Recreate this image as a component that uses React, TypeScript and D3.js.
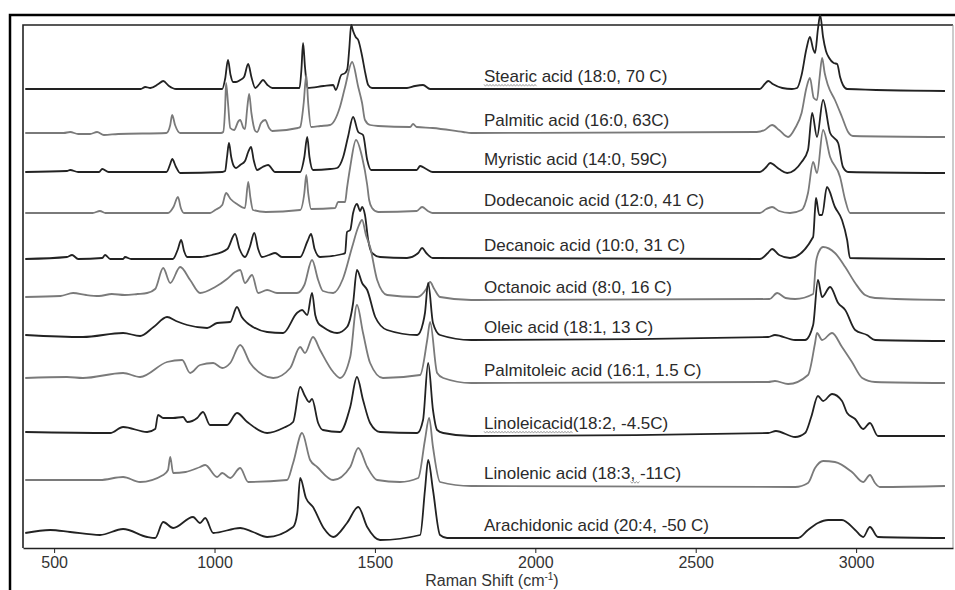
import { useEffect, useRef } from 'react';
import * as d3 from 'd3';

type Pt = [number, number];

// Raman shift (cm-1), intensity above the trace's own baseline (a.u.)
const STEARIC: Pt[] = [[410,0],[700,0],[770,0],[784,2],[800,1],[825,5],[840,8],[858,3],[880,0],[1024,0],[1033,10],[1042,29],[1050,14],[1058,7],[1067,7],[1080,9],[1092,12],[1105,25],[1115,12],[1127,1],[1140,5],[1151,9],[1165,4],[1180,1],[1265,1],[1271,20],[1276,46],[1282,22],[1290,1],[1340,3],[1370,4],[1378,-1],[1395,14],[1407,16],[1414,20],[1420,40],[1426,64],[1432,58],[1440,52],[1448,49],[1460,33],[1470,16],[1479,4],[1491,1],[1600,1],[1625,3],[1650,4],[1672,0],[2700,0],[2715,5],[2726,8],[2740,5],[2770,1],[2800,0],[2816,1],[2830,14],[2845,40],[2856,52],[2866,40],[2872,36],[2881,60],[2888,74],[2897,52],[2906,38],[2916,31],[2930,26],[2941,25],[2950,12],[2959,4],[2972,0],[3277,-2]];
const PALMITIC: Pt[] = [[410,0],[530,0],[550,1],[575,-1],[612,-1],[634,1],[655,-2],[700,-1],[850,0],[862,8],[868,18],[877,8],[893,0],[1020,0],[1027,1],[1033,25],[1036,50],[1042,30],[1049,5],[1061,3],[1075,12],[1080,13],[1090,5],[1095,4],[1102,25],[1108,39],[1115,20],[1127,2],[1133,1],[1145,10],[1158,13],[1170,5],[1180,2],[1260,5],[1267,6],[1278,30],[1286,58],[1292,30],[1301,6],[1330,7],[1360,8],[1391,26],[1407,46],[1429,71],[1448,46],[1460,30],[1469,13],[1485,8],[1510,7],[1610,6],[1619,9],[1630,6],[1680,5],[1775,1],[1800,0],[2690,1],[2715,3],[2738,8],[2760,3],[2788,-4],[2810,5],[2830,20],[2845,45],[2856,55],[2868,35],[2878,33],[2886,55],[2894,75],[2902,60],[2912,48],[2934,33],[2956,16],[2975,1],[2990,-3],[3277,-4]];
const MYRISTIC: Pt[] = [[410,0],[540,1],[550,2],[575,0],[640,0],[650,3],[670,0],[850,0],[862,8],[868,13],[880,5],[893,-1],[1024,0],[1033,1],[1039,15],[1045,29],[1052,15],[1060,6],[1067,4],[1080,7],[1095,11],[1105,20],[1114,25],[1122,12],[1133,2],[1150,5],[1167,7],[1189,0],[1267,0],[1280,15],[1289,35],[1296,15],[1307,2],[1360,3],[1382,4],[1401,15],[1416,35],[1432,55],[1448,40],[1463,37],[1476,12],[1488,2],[1630,2],[1641,6],[1660,3],[1680,0],[2700,0],[2720,5],[2732,9],[2760,3],[2785,-1],[2830,10],[2850,22],[2863,59],[2878,35],[2897,72],[2919,39],[2944,29],[2959,5],[2975,0],[3277,-1]];
const DODECANOIC: Pt[] = [[410,0],[620,0],[643,2],[660,0],[855,0],[872,6],[886,16],[895,5],[905,0],[986,0],[1002,3],[1024,8],[1036,20],[1050,14],[1070,9],[1095,5],[1105,31],[1112,15],[1120,3],[1160,1],[1267,3],[1280,20],[1286,38],[1292,20],[1301,4],[1376,5],[1385,11],[1407,11],[1413,25],[1423,46],[1441,73],[1460,56],[1476,28],[1482,13],[1491,5],[1510,1],[1630,2],[1647,6],[1665,2],[1680,0],[2700,0],[2720,4],[2738,6],[2760,2],[2794,0],[2830,3],[2850,20],[2866,51],[2878,40],[2897,83],[2919,56],[2950,36],[2966,13],[2981,0],[3277,0]];
const DECANOIC: Pt[] = [[410,0],[540,2],[556,4],[575,0],[650,1],[659,4],[675,0],[715,0],[721,2],[740,0],[870,0],[886,10],[896,19],[905,8],[915,2],[955,2],[977,3],[992,4],[1040,10],[1064,25],[1078,10],[1095,2],[1110,12],[1124,26],[1136,10],[1148,2],[1170,4],[1189,6],[1210,2],[1267,2],[1290,18],[1301,25],[1312,10],[1329,2],[1400,5],[1407,6],[1413,27],[1423,29],[1432,46],[1444,55],[1454,48],[1460,52],[1469,44],[1479,19],[1491,6],[1516,2],[1600,1],[1635,6],[1647,11],[1660,6],[1680,1],[2700,0],[2725,6],[2738,10],[2760,4],[2794,1],[2866,22],[2872,50],[2875,61],[2885,44],[2894,44],[2909,72],[2934,52],[2956,39],[2972,19],[2981,1],[3277,0]];
const OCTANOIC: Pt[] = [[410,0],[520,1],[559,4],[600,2],[640,1],[680,3],[720,2],[760,3],[790,4],[815,8],[840,29],[862,14],[893,30],[924,17],[955,4],[1002,10],[1039,18],[1064,25],[1080,27],[1095,14],[1117,22],[1136,4],[1164,7],[1195,4],[1257,4],[1280,12],[1304,37],[1323,17],[1338,6],[1370,4],[1400,18],[1429,50],[1448,70],[1460,77],[1472,62],[1485,50],[1507,17],[1538,2],[1632,0],[1660,8],[1672,15],[1685,8],[1703,0],[1800,-3],[2730,-2],[2754,4],[2780,-1],[2810,-2],[2866,3],[2875,35],[2885,46],[2897,50],[2934,44],[2966,30],[2997,14],[3028,2],[3059,-1],[3277,-3]];
const OLEIC: Pt[] = [[410,0],[590,-2],[715,2],[768,-1],[810,8],[852,18],[880,14],[915,10],[977,7],[1008,12],[1049,13],[1070,28],[1085,18],[1102,12],[1120,8],[1164,3],[1214,2],[1257,22],[1273,25],[1289,20],[1304,42],[1314,20],[1323,12],[1338,8],[1382,2],[1413,8],[1432,32],[1444,65],[1460,52],[1476,45],[1501,18],[1538,5],[1632,0],[1650,12],[1656,22],[1666,52],[1681,12],[1703,0],[1800,-5],[2726,-2],[2747,0],[2810,-5],[2841,-5],[2866,10],[2881,55],[2894,38],[2919,48],[2944,32],[2966,25],[2997,5],[3034,0],[3059,-5],[3277,-6]];
const PALMITOLEIC: Pt[] = [[410,0],[540,1],[590,0],[715,5],[768,1],[852,16],[899,18],[924,5],[955,13],[996,15],[1024,10],[1049,15],[1080,33],[1111,15],[1151,3],[1183,0],[1236,10],[1267,31],[1282,25],[1307,41],[1329,28],[1370,6],[1391,0],[1423,21],[1444,73],[1463,45],[1485,15],[1525,0],[1641,3],[1663,38],[1672,56],[1694,5],[1713,0],[1800,-5],[2726,-4],[2747,-3],[2788,-6],[2850,3],[2872,35],[2878,45],[2894,38],[2925,45],[2956,31],[2987,16],[3019,0],[3059,-4],[3277,-5]];
const LINOLEIC: Pt[] = [[410,0],[675,-1],[715,5],[790,0],[815,3],[824,17],[840,14],[871,14],[902,15],[915,10],[946,14],[964,20],[986,7],[1039,7],[1070,19],[1102,10],[1164,-1],[1214,4],[1245,10],[1267,45],[1282,36],[1295,30],[1304,33],[1323,9],[1338,2],[1391,0],[1423,25],[1444,55],[1463,32],[1485,9],[1516,0],[1632,-1],[1650,12],[1666,69],[1681,22],[1694,2],[1713,-1],[1800,-4],[2726,-1],[2750,1],[2810,-5],[2841,-1],[2860,15],[2881,36],[2897,31],[2925,38],[2956,31],[2972,19],[2997,13],[3022,3],[3043,9],[3068,-4],[3277,-4]];
const LINOLENIC: Pt[] = [[410,0],[643,0],[715,3],[768,-2],[840,5],[855,10],[862,23],[871,7],[910,8],[955,13],[971,15],[1008,3],[1024,7],[1049,2],[1080,12],[1105,-2],[1226,0],[1245,17],[1273,47],[1298,20],[1320,13],[1370,0],[1423,13],[1448,32],[1476,13],[1507,0],[1578,-2],[1635,2],[1656,40],[1669,62],[1681,33],[1703,-2],[1800,-6],[2810,-7],[2850,-3],[2872,12],[2897,19],[2934,18],[2987,8],[3022,-2],[3043,5],[3059,-3],[3074,-7],[3277,-6]];
const ARACHIDONIC: Pt[] = [[410,0],[488,3],[550,1],[643,-2],[715,4],[790,-4],[815,-5],[840,11],[871,5],[933,16],[955,10],[971,15],[996,0],[1080,5],[1120,1],[1164,-4],[1245,6],[1258,20],[1267,55],[1285,35],[1307,26],[1340,5],[1370,-4],[1413,10],[1448,26],[1476,6],[1516,-7],[1641,-2],[1656,43],[1666,73],[1681,43],[1703,-2],[1725,-5],[2819,-5],[2850,3],[2881,10],[2913,13],[2956,13],[2997,3],[3022,-4],[3043,6],[3068,-4],[3277,-5]];

const SPECTRA = [STEARIC, PALMITIC, MYRISTIC, DODECANOIC, DECANOIC, OCTANOIC, OLEIC, PALMITOLEIC, LINOLEIC, LINOLENIC, ARACHIDONIC];
const LABELS = [
  'Stearic acid (18:0, 70 C)',
  'Palmitic acid (16:0, 63C)',
  'Myristic acid (14:0, 59C)',
  'Dodecanoic acid (12:0, 41 C)',
  'Decanoic acid (10:0, 31 C)',
  'Octanoic acid (8:0, 16 C)',
  'Oleic acid (18:1, 13 C)',
  'Palmitoleic acid (16:1, 1.5 C)',
  'Linoleicacid(18:2, -4.5C)',
  'Linolenic acid (18:3, -11C)',
  'Arachidonic acid (20:4, -50 C)',
];
// spell-check squiggles left in the original: [label index, first char, last char]
const SQUIGGLES: [number, number, number][] = [[0, 0, 7], [8, 0, 12], [9, 20, 22]];
// vertical stacking offset of each trace
const OFFSETS = [459, 415, 376, 335, 289, 251, 213, 170, 116, 68, 15];
const X_TICKS = [500, 1000, 1500, 2000, 2500, 3000];

const FONT = 'Arial, "Liberation Sans", sans-serif';

const App = () => {
  const svgRef = useRef<SVGSVGElement>(null);

  useEffect(() => {
    const width = 955;
    const height = 590;
    const m = { left: 23, right: 953, top: 25, bottom: 548 };

    const svg = d3.select(svgRef.current);
    svg.selectAll('*').remove();
    svg.attr('width', width).attr('height', height);

    const x = d3.scaleLinear().domain([403, 3302]).range([m.left, m.right]);
    const y = d3.scaleLinear().domain([0, 523]).range([m.bottom, m.top]);

    // outer frame (top + left only, the rest runs off the picture)
    svg.append('path')
      .attr('d', `M10,${height}V15H${width}`)
      .attr('fill', 'none')
      .attr('stroke', '#000')
      .attr('stroke-width', 2.5);

    // plot frame
    svg.append('path')
      .attr('d', `M${m.left},${m.bottom}V${m.top}H${m.right}`)
      .attr('fill', 'none')
      .attr('stroke', '#222')
      .attr('stroke-width', 1.6);
    svg.append('line')
      .attr('x1', m.right).attr('x2', m.right)
      .attr('y1', m.top).attr('y2', m.bottom)
      .attr('stroke', '#999')
      .attr('stroke-width', 1);

    const line = d3.line<Pt>()
      .x(d => x(d[0]))
      .curve(d3.curveMonotoneX);

    const bisect = d3.bisector((d: Pt) => d[0]).left;
    const valueAt = (data: Pt[], v: number) => {
      const i = Math.max(1, Math.min(data.length - 1, bisect(data, v)));
      const a = data[i - 1];
      const b = data[i];
      const t = (v - a[0]) / (b[0] - a[0]);
      return a[1] + (b[1] - a[1]) * t;
    };

    const labelAt = x.invert(484);
    const labelNodes: SVGTextElement[] = [];

    SPECTRA.forEach((data, i) => {
      const off = OFFSETS[i];
      svg.append('path')
        .datum(data)
        .attr('fill', 'none')
        .attr('stroke', i % 2 === 0 ? '#222' : '#7a7a7a')
        .attr('stroke-width', 1.8)
        .attr('stroke-linejoin', 'round')
        .attr('d', line.y(d => y(off + d[1])));

      const t = svg.append('text')
        .attr('x', x(labelAt))
        .attr('y', y(off + valueAt(data, labelAt)) - 7)
        .attr('font-family', FONT)
        .attr('font-size', 17)
        .attr('fill', '#2a2a2a')
        .text(LABELS[i]);
      labelNodes.push(t.node() as SVGTextElement);
    });

    SQUIGGLES.forEach(([li, a, b]) => {
      const node = labelNodes[li];
      const x0 = +node.getAttribute('x')! + (a > 0 ? node.getSubStringLength(0, a) : 0);
      const x1 = +node.getAttribute('x')! + node.getSubStringLength(0, b);
      const yb = +node.getAttribute('y')! + 3;
      const pts: [number, number][] = d3.range(x0, x1, 1.5).map((px, k) => [px, yb + (k % 2 ? 1.2 : -0.6)]);
      svg.append('path')
        .attr('d', d3.line()(pts))
        .attr('fill', 'none')
        .attr('stroke', '#8a8a8a')
        .attr('stroke-width', 0.8);
    });

    const gx = svg.append('g')
      .attr('transform', `translate(0,${m.bottom})`)
      .call(d3.axisBottom(x).tickValues(X_TICKS).tickSize(5).tickSizeOuter(0).tickPadding(4).tickFormat(d3.format('d')));
    gx.select('.domain').attr('stroke', '#222').attr('stroke-width', 1.6);
    gx.selectAll('.tick line').attr('stroke', '#222');
    gx.selectAll('.tick text')
      .attr('font-family', FONT)
      .attr('font-size', 16)
      .attr('fill', '#333');

    const title = svg.append('text')
      .attr('x', (m.left + m.right) / 2 + 4)
      .attr('y', 586)
      .attr('text-anchor', 'middle')
      .attr('font-family', FONT)
      .attr('font-size', 16)
      .attr('fill', '#333');
    title.append('tspan').text('Raman Shift (cm');
    title.append('tspan').attr('font-size', 10).attr('dy', -6).text('-1');
    title.append('tspan').attr('dy', 6).text(')');
  }, []);

  return <svg ref={svgRef} style={{ position: 'absolute', left: 0, top: 0, background: '#fff' }} />;
};

export default App;
